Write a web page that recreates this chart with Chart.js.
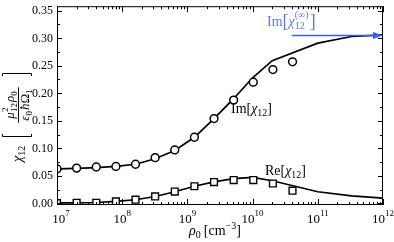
<!DOCTYPE html>
<html>
<head>
<meta charset="utf-8">
<script src="https://cdn.jsdelivr.net/npm/chart.js@4/dist/chart.umd.min.js"></script>
<style>
html, body { margin: 0; padding: 0; background: #fff; }
</style>
</head>
<body>
<canvas id="chiChart" width="394" height="242"></canvas>
<script>
// measured points (open symbols)
const densMeas = [1e7, 2e7, 4e7, 8e7, 1.6e8, 3.2e8, 6.4e8, 1.28e9, 2.56e9, 5.12e9, 1.024e10, 2.048e10, 4.096e10];
const imMeas = [0.0625, 0.064, 0.066, 0.067, 0.071, 0.083, 0.097, 0.12, 0.154, 0.1875, 0.22, 0.243, 0.257];
const reMeas = [0.0005, 0.001, 0.001, 0.0036, 0.0066, 0.0125, 0.0214, 0.031, 0.0387, 0.0423, 0.0423, 0.036, 0.023];

// theory curves (solid lines)
const densTheory = [1e7, 2e7, 4e7, 8e7, 1.6e8, 3.2e8, 6.4e8, 1.28e9, 2.56e9, 5.12e9, 1e10, 2e10, 1e11, 3.3e11, 1e12];
const imTheory = [0.0625, 0.0635, 0.065, 0.067, 0.071, 0.081, 0.096, 0.12, 0.154, 0.19, 0.228, 0.259, 0.291, 0.303, 0.306];
const reTheory = [0.0008, 0.001, 0.0015, 0.0035, 0.0065, 0.0125, 0.021, 0.031, 0.039, 0.045, 0.047, 0.041, 0.021, 0.0137, 0.0095];

// high density limit of Im part
const imLimit = 0.305;
const arrowFrom = 4e10;

// axes
const xDecades = [7, 8, 9, 10, 11, 12];
const yTicks = [0, 0.05, 0.10, 0.15, 0.20, 0.25, 0.30, 0.35];
const yMinor = [0.025, 0.075, 0.125, 0.175, 0.225, 0.275, 0.325];

const FONT = '"Liberation Serif", "Times New Roman", serif';
const BLUE = '#3b5cf0';

function toXY(xs, ys) {
    return xs.map((x, i) => ({ x: x, y: ys[i] }));
}

// draws runs of text left to right, returns the width
function rich(ctx, x, y, parts, draw = true) {
    let cx = x;
    for (const p of parts) {
        ctx.font = (p.i ? 'italic ' : '') + p.s + 'px ' + FONT;
        const w = ctx.measureText(p.t).width;
        if (draw) ctx.fillText(p.t, cx, y + (p.dy || 0));
        if (!p.stack) cx += w + (p.pad || 0);
    }
    return cx - x;
}

const decorations = {
    id: 'decorations',
    afterDraw(chart) {
        const { ctx, chartArea: a, scales: { x, y } } = chart;
        ctx.save();
        ctx.strokeStyle = '#000';
        ctx.fillStyle = '#000';
        ctx.lineWidth = 1;
        ctx.textBaseline = 'alphabetic';
        ctx.textAlign = 'left';

        // frame
        ctx.strokeRect(a.left + 0.5, a.top + 0.5, a.right - a.left - 1, a.bottom - a.top - 1);

        // x ticks, top and bottom, inward
        ctx.beginPath();
        xDecades.forEach((e, k) => {
            for (let m = 1; m < 10; m++) {
                if (m > 1 && k === xDecades.length - 1) break;
                const px = Math.round(x.getPixelForValue(m * Math.pow(10, e))) + 0.5;
                const len = m === 1 ? 6 : 3;
                ctx.moveTo(px, a.bottom);
                ctx.lineTo(px, a.bottom - len);
                ctx.moveTo(px, a.top);
                ctx.lineTo(px, a.top + len);
            }
        });
        // y ticks, left and right
        yTicks.concat(yMinor).forEach(v => {
            const py = Math.round(y.getPixelForValue(v)) + 0.5;
            const len = yTicks.includes(v) ? 5 : 3;
            ctx.moveTo(a.left, py);
            ctx.lineTo(a.left + len, py);
            ctx.moveTo(a.right, py);
            ctx.lineTo(a.right - len, py);
        });
        ctx.stroke();

        // y tick labels
        ctx.font = '12px ' + FONT;
        ctx.textAlign = 'right';
        ctx.textBaseline = 'middle';
        yTicks.forEach(v => {
            ctx.fillText(v.toFixed(2), a.left - 4, y.getPixelForValue(v) + 0.5);
        });
        ctx.textAlign = 'left';
        ctx.textBaseline = 'alphabetic';

        // x tick labels 10^n
        xDecades.forEach((e, k) => {
            const parts = [{ t: '10', s: 13 }, { t: String(e), s: 9, dy: -7 }];
            const w = rich(ctx, 0, 0, parts, false);
            let px = x.getPixelForValue(Math.pow(10, e)) - w / 2;
            if (k === 0) px += 4;
            rich(ctx, px, 223, parts);
        });

        // x axis title
        const xt = [
            { t: 'ρ', s: 14, i: true },
            { t: '0', s: 10, dy: 3, pad: 3 },
            { t: '[cm', s: 14 },
            { t: '−3', s: 10, dy: -6 },
            { t: ']', s: 14 }
        ];
        const xtw = rich(ctx, 0, 0, xt, false);
        rich(ctx, 215 - xtw / 2, 235, xt);

        // y axis title, rotated
        ctx.save();
        ctx.translate(0, 165);
        ctx.rotate(-Math.PI / 2);
        rich(ctx, 3, 22, [{ t: 'χ', s: 14, i: true }, { t: '12', s: 10, dy: 3 }]);
        // brackets
        ctx.lineWidth = 1;
        ctx.beginPath();
        ctx.moveTo(31, 2.5); ctx.lineTo(28.5, 2.5); ctx.lineTo(28.5, 31.5); ctx.lineTo(31, 31.5);
        ctx.moveTo(89, 2.5); ctx.lineTo(91.5, 2.5); ctx.lineTo(91.5, 31.5); ctx.lineTo(89, 31.5);
        ctx.stroke();
        const num = [
            { t: 'μ', s: 13, i: true },
            { t: '2', s: 9, dy: -6, stack: true },
            { t: '12', s: 9, dy: 3, pad: 1 },
            { t: 'ρ', s: 13, i: true },
            { t: '0', s: 9, dy: 3 }
        ];
        const den = [
            { t: 'ε', s: 13, i: true },
            { t: '0', s: 9, dy: 3, pad: 1 },
            { t: 'ħ', s: 13, i: true },
            { t: 'Ω', s: 13 },
            { t: '1', s: 9, dy: 3 }
        ];
        const nw = rich(ctx, 0, 0, num, false);
        const dw = rich(ctx, 0, 0, den, false);
        const mid = 60;
        rich(ctx, mid - nw / 2, 14, num);
        rich(ctx, mid - dw / 2, 28.5, den);
        const bw = Math.max(nw, dw) + 4;
        ctx.beginPath();
        ctx.moveTo(mid - bw / 2, 18.5);
        ctx.lineTo(mid + bw / 2, 18.5);
        ctx.stroke();
        ctx.restore();

        // curve labels
        rich(ctx, 231, 113, [
            { t: 'Im[', s: 14 },
            { t: 'χ', s: 14, i: true },
            { t: '12', s: 10, dy: 3 },
            { t: ']', s: 14 }
        ]);
        rich(ctx, 265, 175, [
            { t: 'Re[', s: 14 },
            { t: 'χ', s: 14, i: true },
            { t: '12', s: 10, dy: 3 },
            { t: ']', s: 14 }
        ]);

        // high-density limit arrow
        const ay = y.getPixelForValue(imLimit);
        const ax0 = x.getPixelForValue(arrowFrom);
        const ax1 = x.getPixelForValue(1e12);
        ctx.strokeStyle = BLUE;
        ctx.fillStyle = BLUE;
        ctx.lineWidth = 1.5;
        ctx.beginPath();
        ctx.moveTo(ax0, ay);
        ctx.lineTo(ax1 - 6, ay);
        ctx.stroke();
        ctx.beginPath();
        ctx.moveTo(ax1, ay);
        ctx.lineTo(ax1 - 10, ay - 3.5);
        ctx.lineTo(ax1 - 10, ay + 3.5);
        ctx.closePath();
        ctx.fill();

        ctx.fillStyle = '#5a78ee';
        rich(ctx, 267, 26, [
            { t: 'Im', s: 14 },
            { t: '[', s: 18, dy: 1 },
            { t: 'χ', s: 14, i: true },
            { t: '(∞)', s: 10, dy: -8, stack: true },
            { t: '12', s: 10, dy: 3, pad: 5 },
            { t: ']', s: 18, dy: 1 }
        ]);
        ctx.restore();
    }
};

new Chart(document.getElementById('chiChart'), {
    type: 'scatter',
    data: {
        datasets: [{
            label: 'Im meas',
            data: toXY(densMeas, imMeas),
            pointStyle: 'circle',
            pointRadius: 3.9,
            borderColor: '#000',
            backgroundColor: '#fff',
            borderWidth: 1.5,
            order: 0
        }, {
            label: 'Re meas',
            data: toXY(densMeas, reMeas),
            pointStyle: 'rect',
            pointRadius: 4.8,
            borderColor: '#000',
            backgroundColor: '#fff',
            borderWidth: 1.4,
            order: 0
        }, {
            label: 'Im theory',
            data: toXY(densTheory, imTheory),
            showLine: true,
            pointRadius: 0,
            borderColor: '#000',
            borderWidth: 1.7,
            tension: 0,
            order: 1
        }, {
            label: 'Re theory',
            data: toXY(densTheory, reTheory),
            showLine: true,
            pointRadius: 0,
            borderColor: '#000',
            borderWidth: 1.7,
            tension: 0,
            order: 1
        }]
    },
    options: {
        responsive: false,
        animation: false,
        devicePixelRatio: 1,
        layout: { padding: { left: 57, right: 11, top: 2, bottom: 37 } },
        plugins: { legend: { display: false }, tooltip: { enabled: false } },
        scales: {
            x: { type: 'logarithmic', min: 1e7, max: 1e12, display: false },
            y: { type: 'linear', min: -0.003, max: 0.358, display: false }
        }
    },
    plugins: [decorations]
});
</script>
</body>
</html>
